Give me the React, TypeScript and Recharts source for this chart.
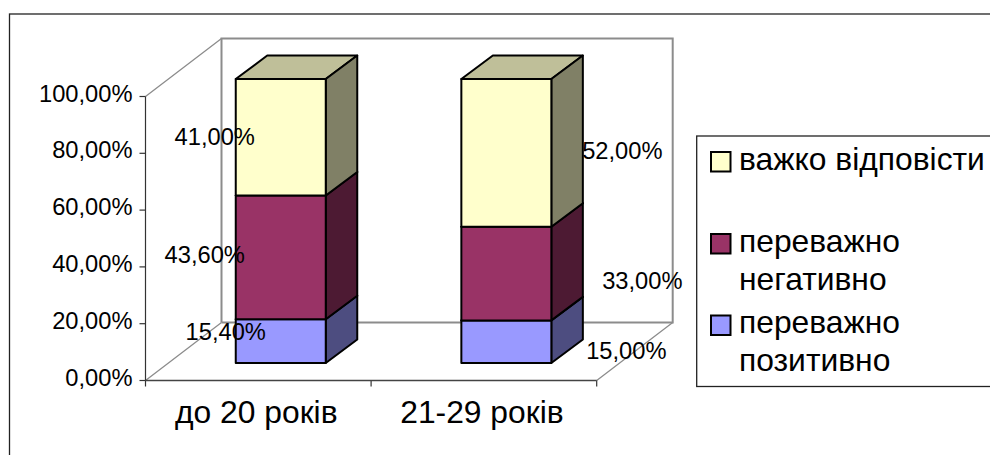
import React from 'react';
import { BarChart, Bar, XAxis, YAxis, LabelList, Legend, Customized } from 'recharts';

const categories = ['до 20 років', '21-29 років'];
const positive = [15.4, 15];
const negative = [43.6, 33];
const hard = [41, 52];
const yTicks = [0, 20, 40, 60, 80, 100];
const seriesNames = ['переважно позитивно', 'переважно негативно', 'важко відповісти'];

const data = categories.map((name, i) => ({ name, positive: positive[i], negative: negative[i], hard: hard[i] }));

const W = 990, H = 455;
const PL = 145.5, PT = 96.5, PR = 596.7, PB = 380.5;
const WALL_DX = 76, WALL_DY = -58;
const BAR_DX = 22.25, BAR_DY = -17.5;
const DEPTH_X = 31.5, DEPTH_Y = -23.5;
const FONT = '"Liberation Sans", Arial, sans-serif';
const SX = 1;

const colors: Record<string, { front: string; side: string; top: string }> = {
  positive: { front: '#9999FF', side: '#4D4D80', top: '#7373BF' },
  negative: { front: '#993366', side: '#4D1A33', top: '#73264D' },
  hard: { front: '#FFFFCC', side: '#808066', top: '#BFBF99' },
};

// label offsets from the centre of the front face of each segment
const labelOffsets: Record<string, [number, number][]> = {
  positive: [[-55, -9], [120, 9]],
  negative: [[-76, -2], [136, 7]],
  hard: [[-66, 0], [116, -2]],
};

function SText({ x, y, anchor = 'start', size, children }: any) {
  return (
    <text
      transform={`translate(${x},${y}) scale(${SX},1)`}
      textAnchor={anchor}
      fontFamily={FONT}
      fontSize={size}
      fill="#000"
    >
      {children}
    </text>
  );
}

function Walls() {
  const bw = PL + WALL_DX, tw = PT + WALL_DY, rw = PR + WALL_DX, fw = PB + WALL_DY;
  return (
    <g fill="none">
      <rect x={9.5} y={14} width={1100} height={600} stroke="#222" strokeWidth={1.3} />
      <path d={`M${bw} ${fw}V${tw}H${rw}V${fw}H${bw}`} stroke="#8c8c8c" strokeWidth={2} />
      <path d={`M${PL} ${PT}L${bw} ${tw}M${PL} ${PB}L${bw} ${fw}M${PR} ${PB}L${rw} ${fw}`} stroke="#8c8c8c" strokeWidth={1.3} />
      {[PL, (PL + PR) / 2, PR].map((x) => (
        <line key={x} x1={x} x2={x} y1={PB} y2={PB + 6} stroke="#333" strokeWidth={1.2} />
      ))}
    </g>
  );
}

function Box3D(props: any) {
  const { x, y, width, height, dataKey } = props;
  const c = colors[dataKey];
  const l = x + BAR_DX, t = y + BAR_DY, r = l + width, b = t + height;
  const stroke = { stroke: '#000', strokeWidth: 2, strokeLinejoin: 'round' as const };
  return (
    <g>
      <path d={`M${l} ${t}L${l + DEPTH_X} ${t + DEPTH_Y}H${r + DEPTH_X}L${r} ${t}Z`} fill={c.top} {...stroke} />
      <path d={`M${r} ${t}L${r + DEPTH_X} ${t + DEPTH_Y}V${b + DEPTH_Y}L${r} ${b}Z`} fill={c.side} {...stroke} />
      <rect x={l} y={t} width={width} height={height} fill={c.front} {...stroke} />
    </g>
  );
}

const makeLabel = (key: string) => (props: any) => {
  const { x, y, width, height, index, value } = props;
  const [dx, dy] = labelOffsets[key][index];
  const cx = x + BAR_DX + width / 2 + dx;
  const cy = y + BAR_DY + height / 2 + dy;
  return (
    <SText x={cx} y={cy + 8} anchor="middle" size={23.7}>
      {Number(value).toFixed(2).replace('.', ',') + '%'}
    </SText>
  );
};

function YTick({ x, y, payload }: any) {
  return (
    <SText x={x - 5} y={y + 5} anchor="end" size={23.7}>
      {payload.value.toFixed(2).replace('.', ',') + '%'}
    </SText>
  );
}

function XTick({ x, payload }: any) {
  return (
    <SText x={x - 2} y={423} anchor="middle" size={31.8}>
      {payload.value}
    </SText>
  );
}

function LegendBox() {
  const rows: { key: string; lines: string[]; sy: number; ty: number[] }[] = [
    { key: 'hard', lines: ['важко відповісти'], sy: 152, ty: [170] },
    { key: 'negative', lines: ['переважно', 'негативно'], sy: 234, ty: [252, 290] },
    { key: 'positive', lines: ['переважно', 'позитивно'], sy: 315.5, ty: [333, 371] },
  ];
  return (
    <svg width={W} height={H} style={{ position: 'absolute', left: 0, top: 0, overflow: 'hidden', pointerEvents: 'none' }}>
      <rect x={696.7} y={136} width={400} height={250.5} fill="#fff" stroke="#222" strokeWidth={1.3} />
      {rows.map((r) => (
        <g key={r.key}>
          <rect x={711} y={r.sy} width={19.5} height={19.5} fill={colors[r.key].front} stroke="#000" strokeWidth={2} />
          {r.lines.map((ln, i) => (
            <SText key={ln} x={739} y={r.ty[i]} size={31.8}>{ln}</SText>
          ))}
        </g>
      ))}
    </svg>
  );
}

const keys = ['positive', 'negative', 'hard'];

export default function App() {
  return (
    <div style={{ position: 'absolute', left: 0, top: 0, width: W, height: H, overflow: 'hidden', background: '#fff' }}>
      <BarChart
        width={W}
        height={H}
        data={data}
        margin={{ top: PT, left: 0, right: W - PR, bottom: 0 }}
        barSize={90}
      >
        <Customized component={<Walls />} />
        <XAxis dataKey="name" height={H - PB} tickLine={false} axisLine={{ stroke: '#444', strokeWidth: 1.5 }} tick={<XTick />} interval={0} />
        <YAxis
          width={PL}
          domain={[0, 100]}
          ticks={yTicks}
          interval={0}
          tickSize={6}
          tickLine={{ stroke: '#333', strokeWidth: 1.2 }}
          axisLine={{ stroke: '#333', strokeWidth: 1.2 }}
          tick={<YTick />}
        />
        {keys.map((k, i) => (
          <Bar key={k} dataKey={k} name={seriesNames[i]} stackId="a" fill={colors[k].front} shape={<Box3D dataKey={k} />} isAnimationActive={false}>
            <LabelList dataKey={k} content={makeLabel(k)} />
          </Bar>
        ))}
        <Legend content={<LegendBox />} wrapperStyle={{ position: 'absolute', left: 0, top: 0, width: 0, height: 0, bottom: 'auto' }} />
      </BarChart>
    </div>
  );
}
